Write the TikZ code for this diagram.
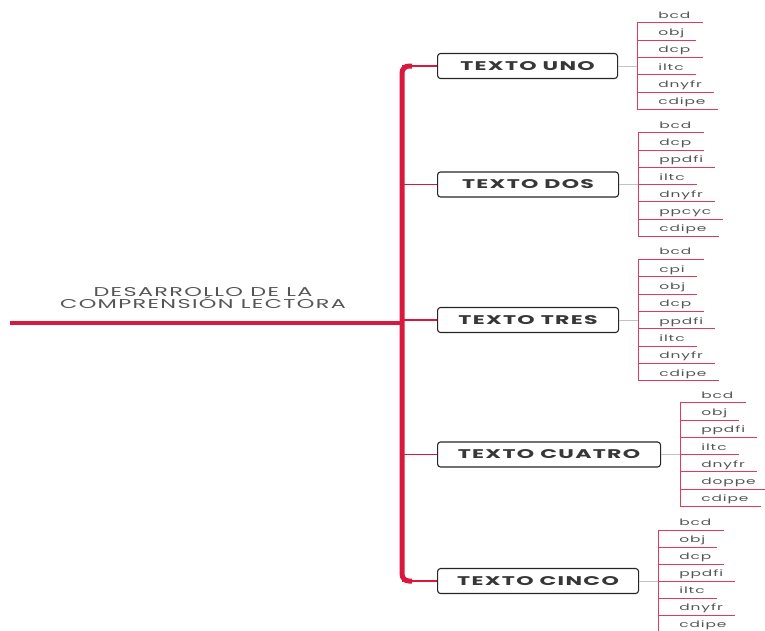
\documentclass[tikz,border=0pt]{standalone}
\usepackage{fontspec}
\usepackage{graphicx}
\setmainfont{Poppins}
\newfontfamily\mapfont[LetterSpace=6]{Poppins}
\usetikzlibrary{positioning,calc}
\definecolor{MapRed}{RGB}{218,24,62}
\definecolor{MapInk}{RGB}{55,55,55}
\definecolor{MapText}{RGB}{85,85,85}
\definecolor{MapGrey}{RGB}{195,195,195}
\newcommand{\widen}[1]{\scalebox{1.75}[1]{#1}}

\begin{document}
\begin{tikzpicture}[x=1pt, y=-1pt]
  \tikzstyle{topic} = [rectangle, draw=black!85, line width=1.1pt, rounded corners=3pt, minimum height=25pt, inner sep=0pt, anchor=west, text=MapInk, font=\mapfont\bfseries\fontsize{12.6}{12.6}\selectfont]
  \tikzstyle{leaf} = [anchor=base west, xshift=21pt, yshift=4.5pt, inner sep=0pt, text=MapText, font=\mapfont\fontsize{8.8}{8.8}\selectfont]
  \tikzstyle{rootline} = [draw=MapRed, line width=3.2pt]
  \tikzstyle{trunk} = [draw=MapRed, line width=5pt, rounded corners=7pt]
  \tikzstyle{branch} = [draw=MapRed, line width=1.3pt]
  \tikzstyle{twig} = [draw=MapRed!85, line width=0.7pt]
  \tikzstyle{link} = [draw=MapGrey, line width=0.8pt]

  \useasboundingbox (0,0) rectangle (765,630);

  % central topic
  \coordinate (rootL) at (10,323);
  \coordinate (hub) at (402,323);
  \node [align=center, text=MapText, font=\mapfont\fontsize{12.8}{12.3}\selectfont] (root) at (203,298) {\widen{DESARROLLO DE LA}\\\widen{COMPRENSI\'ON LECTORA}};
  \draw [rootline] (rootL) -- (hub);

  % main topics
  \node [topic, minimum width=180pt] (uno) at (437,66) {\widen{TEXTO UNO}};
  \node [topic, minimum width=181pt] (dos) at (437,184.5) {\widen{TEXTO DOS}};
  \node [topic, minimum width=181pt] (tres) at (437,320) {\widen{TEXTO TRES}};
  \node [topic, minimum width=223pt] (cuatro) at (437,454.5) {\widen{TEXTO CUATRO}};
  \node [topic, minimum width=201pt] (cinco) at (437,581) {\widen{TEXTO CINCO}};

  \draw [trunk] ($(uno.west -| hub)+(10,0)$) -- (uno.west -| hub) -- (cinco.west -| hub) -- ++(10,0);
  \foreach \b in {uno,dos,tres,cuatro,cinco}
    \draw [branch] (\b.west -| hub) -- (\b.west);

  % subtopics
  \foreach \leaf [count=\i] in {bcd,obj,dcp,iltc,dnyfr,cdipe} {
    \coordinate (unoU\i) at ($(uno.east)+(19,{(\i-3.5)*17.3})$);
    \node [leaf] (unoL\i) at (unoU\i) {\widen{\leaf}};
    \draw [twig] (unoU\i) -- ($(unoU\i -| unoL\i.east)+(12,0)$);
  }
  \draw [twig] (unoU1) -- (unoU6);
  \draw [link] (uno.east) -- (uno.east -| unoU1);

  \foreach \leaf [count=\i] in {bcd,dcp,ppdfi,iltc,dnyfr,ppcyc,cdipe} {
    \coordinate (dosU\i) at ($(dos.east)+(19,{(\i-4)*17.3})$);
    \node [leaf] (dosL\i) at (dosU\i) {\widen{\leaf}};
    \draw [twig] (dosU\i) -- ($(dosU\i -| dosL\i.east)+(12,0)$);
  }
  \draw [twig] (dosU1) -- (dosU7);
  \draw [link] (dos.east) -- (dos.east -| dosU1);

  \foreach \leaf [count=\i] in {bcd,cpi,obj,dcp,ppdfi,iltc,dnyfr,cdipe} {
    \coordinate (tresU\i) at ($(tres.east)+(19,{(\i-4.5)*17.3})$);
    \node [leaf] (tresL\i) at (tresU\i) {\widen{\leaf}};
    \draw [twig] (tresU\i) -- ($(tresU\i -| tresL\i.east)+(12,0)$);
  }
  \draw [twig] (tresU1) -- (tresU8);
  \draw [link] (tres.east) -- (tres.east -| tresU1);

  \foreach \leaf [count=\i] in {bcd,obj,ppdfi,iltc,dnyfr,doppe,cdipe} {
    \coordinate (cuatroU\i) at ($(cuatro.east)+(19,{(\i-4)*17.3})$);
    \node [leaf] (cuatroL\i) at (cuatroU\i) {\widen{\leaf}};
    \draw [twig] (cuatroU\i) -- ($(cuatroU\i -| cuatroL\i.east)+(12,0)$);
  }
  \draw [twig] (cuatroU1) -- (cuatroU7);
  \draw [link] (cuatro.east) -- (cuatro.east -| cuatroU1);

  \foreach \leaf [count=\i] in {bcd,obj,dcp,ppdfi,iltc,dnyfr,cdipe} {
    \coordinate (cincoU\i) at ($(cinco.east)+(19,{(\i-4)*17})$);
    \node [leaf] (cincoL\i) at (cincoU\i) {\widen{\leaf}};
    \draw [twig] (cincoU\i) -- ($(cincoU\i -| cincoL\i.east)+(12,0)$);
  }
  \draw [twig] (cincoU1) -- (cincoU7);
  \draw [link] (cinco.east) -- (cinco.east -| cincoU1);
\end{tikzpicture}
\end{document}
